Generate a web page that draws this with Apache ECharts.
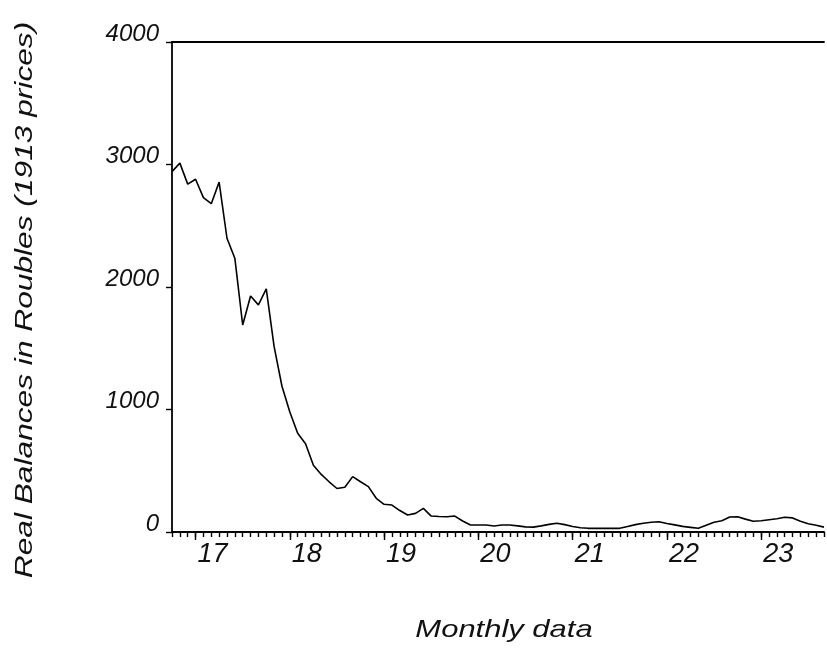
<!DOCTYPE html>
<html>
<head>
<meta charset="utf-8">
<script src="https://cdn.jsdelivr.net/npm/echarts@6/dist/echarts.min.js"></script>
<style>
html,body{margin:0;padding:0;background:#fff;}
#chart{width:827px;height:649px;}
</style>
</head>
<body>
<div id="chart"></div>
<script>
// Monthly categories: Oct 1916 .. Sep 1923
const startYear = 1916, startMonth = 10, nMonths = 84;
const months = [];
for (let i = 0; i < nMonths; i++) {
  const t = (startMonth - 1) + i;
  const y = startYear + Math.floor(t / 12);
  const m = (t % 12) + 1;
  months.push(y + '-' + (m < 10 ? '0' + m : m));
}
// Real balances in roubles (1913 prices)
const realBalances = [
  2942, 3011, 2840,
  2880, 2730, 2680, 2856, 2398, 2235, 1690, 1927, 1854, 1984, 1513, 1190,
  980, 806, 720, 545, 470, 410, 355, 365, 452, 410, 370, 275,
  226, 220, 175, 139, 152, 193, 130, 127, 125, 130, 90, 57,
  57, 57, 49, 57, 57, 50, 42, 40, 50, 62, 71, 60,
  45, 35, 30, 30, 30, 30, 30, 45, 60, 72, 80, 84,
  70, 58, 46, 38, 30, 55, 80, 92, 122, 125, 105, 88,
  92, 100, 108, 120, 115, 88, 68, 55, 40
];
const yTicks = [0, 1000, 2000, 3000, 4000];
const yAxisTitle = 'Real Balances in Roubles (1913 prices)';
const xAxisTitle = 'Monthly data';

const FONT = 'Liberation Sans, Arial, sans-serif';
const chart = echarts.init(document.getElementById('chart'));
const isJan = (i, v) => String(v).slice(5) === '01';

chart.setOption({
  animation: false,
  backgroundColor: '#ffffff',
  grid: { left: 172, right: 3, top: 42, bottom: 117, containLabel: false },
  xAxis: [
    {
      type: 'category', data: months, boundaryGap: false, position: 'bottom',
      axisLine: { show: true, lineStyle: { color: '#000', width: 1.8 } },
      axisTick: { show: true, interval: 0, length: 5, lineStyle: { color: '#000', width: 1.4 } },
      axisLabel: { show: false },
      splitLine: { show: false }
    },
    {
      type: 'category', data: months, boundaryGap: false, position: 'bottom',
      axisLine: { show: false },
      axisTick: { show: true, interval: isJan, length: 8, lineStyle: { color: '#000', width: 1.4 } },
      axisLabel: {
        show: true, interval: isJan, align: 'left', margin: 9,
        formatter: v => String(v).slice(2, 4),
        fontFamily: FONT, fontStyle: 'italic', fontSize: 27, color: '#111', padding: [0, 0, 0, 2]
      },
      splitLine: { show: false }
    },
    {
      type: 'category', data: months, boundaryGap: false, position: 'top',
      axisLine: { show: true, lineStyle: { color: '#000', width: 1.8 } },
      axisTick: { show: false }, axisLabel: { show: false }, splitLine: { show: false }
    }
  ],
  yAxis: {
    type: 'value', min: yTicks[0], max: yTicks[yTicks.length - 1], interval: 1000,
    axisLine: { show: true, lineStyle: { color: '#000', width: 1.8 } },
    axisTick: { show: true, length: 6, lineStyle: { color: '#000', width: 1.4 } },
    axisLabel: {
      margin: 13, fontFamily: FONT, fontStyle: 'italic', fontSize: 24, color: '#111',
      verticalAlign: 'bottom', lineHeight: 16,
      formatter: v => String(v)
    },
    splitLine: { show: false }
  },
  graphic: [
    {
      type: 'text', x: 25, y: 300, rotation: Math.PI / 2, scaleX: 1.32,
      style: { text: yAxisTitle, fontFamily: FONT, fontStyle: 'italic', fontSize: 24,
        fill: '#111', textAlign: 'center', textVerticalAlign: 'middle' }
    },
    {
      type: 'text', x: 504, y: 630, scaleX: 1.29,
      style: { text: xAxisTitle, fontFamily: FONT, fontStyle: 'italic', fontSize: 24,
        fill: '#111', textAlign: 'center', textVerticalAlign: 'middle' }
    }
  ],
  series: [{
    type: 'line', data: realBalances, xAxisIndex: 0, showSymbol: false, symbol: 'none',
    lineStyle: { color: '#000', width: 1.6 }, silent: true
  }]
});
</script>
</body>
</html>
